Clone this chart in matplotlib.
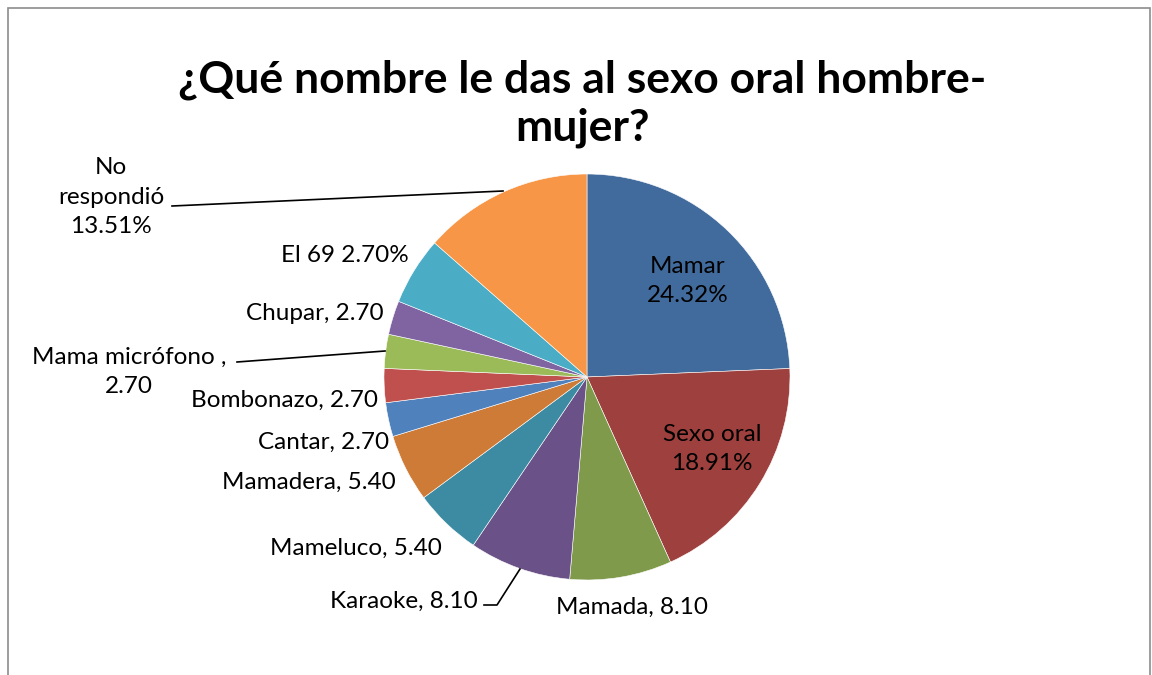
import matplotlib.pyplot as plt
from matplotlib.patches import Rectangle

plt.rcParams['font.family'] = ['Lato', 'DejaVu Sans']

# data, clockwise from the top
names = ['Mamar', 'Sexo oral', 'Mamada', 'Karaoke', 'Mameluco', 'Mamadera',
         'Cantar', 'Bombonazo', 'Mama micrófono', 'Chupar', 'El 69', 'No respondió']
values = [24.32, 18.91, 8.10, 8.10, 5.40, 5.40, 2.70, 2.70, 2.70, 2.70, 5.40, 13.51]
label_texts = ['Mamar\n24.32%', 'Sexo oral\n18.91%', 'Mamada, 8.10', 'Karaoke, 8.10',
               'Mameluco, 5.40', 'Mamadera, 5.40', 'Cantar, 2.70', 'Bombonazo, 2.70',
               'Mama micrófono ,\n2.70', 'Chupar, 2.70', 'El 69 2.70%',
               'No\nrespondió\n13.51%']
colors = ['#416B9C', '#9D403E', '#7F9A4A', '#6A5187', '#3C8BA3', '#CD7B37',
          '#4F81BD', '#C0504D', '#9BBB59', '#8064A2', '#4BACC6', '#F79646']

W, H = 1152, 675
cx, cy, R = 587, 377, 203
fig = plt.figure(figsize=(W / 100, H / 100), dpi=100)

# chart frame
fig.patches.append(Rectangle((8 / W, -0.05), (1150 - 8) / W, 1.05 - 8 / H,
                             transform=fig.transFigure, fill=False,
                             edgecolor='#8c8c8c', linewidth=1.2))

fig.text(582 / W, 1 - 80 / H, '¿Qué nombre le das al sexo oral hombre-',
         ha='center', va='center', fontsize=32, fontweight='bold')
fig.text(582 / W, 1 - 128 / H, 'mujer?',
         ha='center', va='center', fontsize=32, fontweight='bold')

pad = 240
ax = fig.add_axes([(cx - pad) / W, (H - cy - pad) / H, 2 * pad / W, 2 * pad / H])
ax.pie(values, colors=colors, startangle=90, counterclock=False, radius=1,
       wedgeprops=dict(edgecolor='white', linewidth=0.4))
lim = pad / R
ax.set_xlim(-lim, lim)
ax.set_ylim(-lim, lim)
ax.set_aspect('equal')
ax.axis('off')


def px(x, y):
    return (x - cx) / R, (cy - y) / R


# label centres in pixel coordinates of the original chart
label_pos = [(688, 281), (712, 449), (632, 607), (404, 601), (356, 548),
             (309, 482), (324, 442), (284, 400), (129, 372), (315, 314),
             (345, 255), (111, 197)]
for txt, (x, y) in zip(label_texts, label_pos):
    tx, ty = px(x, y)
    ax.text(tx, ty, txt, ha='center', va='center', fontsize=17.5,
            linespacing=1.5, clip_on=False)

# leader lines
leaders = [
    [(484, 605), (497, 605), (520, 569)],
    [(237, 362), (385, 351)],
    [(172, 206), (503, 191)],
]
for pts in leaders:
    xs, ys = zip(*[px(x, y) for x, y in pts])
    ax.plot(xs, ys, color='black', linewidth=1.2, clip_on=False)

fig.savefig('out.png', dpi=100)
